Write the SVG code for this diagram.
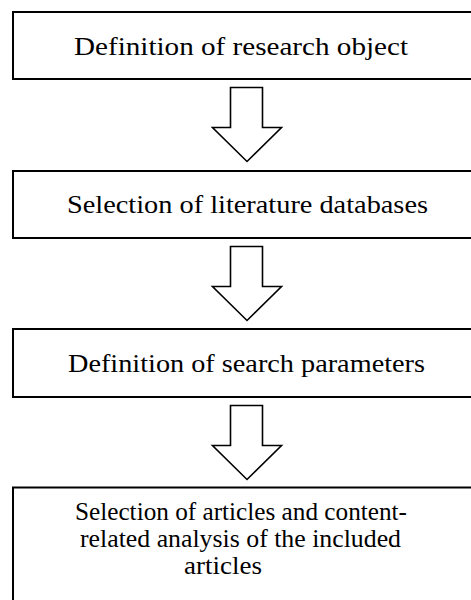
<svg xmlns="http://www.w3.org/2000/svg" width="471" height="600" viewBox="0 0 471 600">
<style>
.box{fill:#fff;stroke:#000;stroke-width:2}
.arr{fill:#fff;stroke:#000;stroke-width:1.6;stroke-linejoin:miter}
.t{font-family:"Liberation Serif","Times New Roman",serif;font-size:25px;fill:#000}
</style>
<rect width="471" height="600" fill="#fff"/>
<g id="connectors">
<path class="arr" d="M230.5,87.5 H262.5 V127.5 H281.5 L247,161.5 L212.5,127.5 H230.5 Z"/>
<path class="arr" d="M230.5,246.5 H262.5 V286.5 H281.5 L247,320.5 L212.5,286.5 H230.5 Z"/>
<path class="arr" d="M230.5,405.5 H262.5 V445.5 H281.5 L247,479.5 L212.5,445.5 H230.5 Z"/>
</g>
<g id="n1">
<rect class="box" x="13" y="12" width="470" height="67"/>
<text class="t" x="74" y="55" textLength="334" lengthAdjust="spacingAndGlyphs">Definition of research object</text>
</g>
<g id="n2">
<rect class="box" x="13" y="171" width="470" height="67"/>
<text class="t" x="67" y="213" textLength="361" lengthAdjust="spacingAndGlyphs">Selection of literature databases</text>
</g>
<g id="n3">
<rect class="box" x="13" y="329" width="470" height="68"/>
<text class="t" x="68" y="372" textLength="357" lengthAdjust="spacingAndGlyphs">Definition of search parameters</text>
</g>
<g id="n4">
<rect class="box" x="13" y="487.5" width="470" height="130"/>
<text class="t" x="75" y="520" textLength="332" lengthAdjust="spacingAndGlyphs">Selection of articles and content-</text>
<text class="t" x="80" y="547" textLength="321" lengthAdjust="spacingAndGlyphs">related analysis of the included</text>
<text class="t" x="184" y="574" textLength="78" lengthAdjust="spacingAndGlyphs">articles</text>
</g>
</svg>
